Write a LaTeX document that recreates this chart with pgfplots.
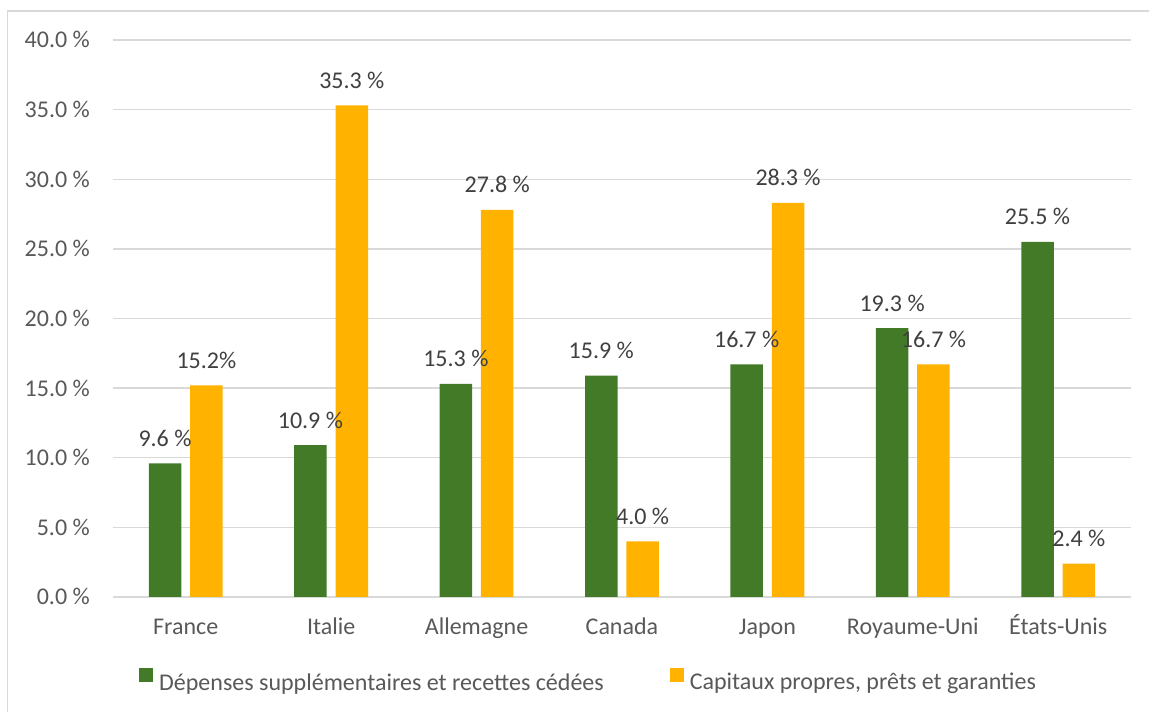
\documentclass[border=0pt]{standalone}
\usepackage{fontspec}
\setmainfont{Carlito}
\usepackage{pgfplots}
\pgfplotsset{compat=1.18}
\definecolor{cgreen}{HTML}{437A27}
\definecolor{corange}{HTML}{FFB300}
\definecolor{cgrid}{HTML}{D9D9D9}
\definecolor{ctick}{HTML}{595959}
\definecolor{clabel}{HTML}{404040}
\newcommand{\cfont}{\fontsize{24}{28}\selectfont}
\begin{document}
\begin{tikzpicture}
\useasboundingbox (0,0) rectangle (1149pt,712pt);
\fill[white] (0,0) rectangle (1149pt,712pt);
\draw[cgrid, line width=1.5pt] (7.5pt,-5pt) -- (7.5pt,701pt) -- (1160pt,701pt);
\begin{axis}[
  at={(113pt,115pt)}, anchor=south west,
  scale only axis, width=1018pt, height=557pt,
  ybar=8.9pt, bar width=32.5pt,
  xmin=-0.5, xmax=6.5, ymin=0, ymax=40,
  xtick={0,...,6},
  xticklabels={France,Italie,Allemagne,Canada,Japon,Royaume-Uni,États-Unis},
  ytick={0,5,...,40},
  yticklabel={\pgfmathprintnumber[fixed,fixed zerofill,precision=1]{\tick}~\%},
  /pgf/number format/assume math mode=true,
  major tick length=0pt,
  axis line style={draw=none},
  ymajorgrids, major grid style={cgrid, line width=1.3pt},
  tick label style={font=\cfont, text=ctick, inner sep=0pt},
  xticklabel style={anchor=base, yshift=-38pt},
  yticklabel style={anchor=base east, xshift=-23pt, yshift=-8pt},
  point meta=explicit symbolic,
  nodes near coords,
  every node near coord/.append style={anchor=base, yshift=17pt, font=\cfont, text=clabel, inner sep=0pt},
  legend columns=2,
  legend style={at={(0.0255,-0.149)}, anchor=west, draw=none, fill=none, inner sep=0pt,
    font=\cfont, text=ctick,
    nodes={inner sep=0pt},
    /tikz/every odd column/.append style={column sep=6pt},
    /tikz/every even column/.append style={column sep=66pt}},
  legend image code/.code={\fill[#1,draw=none] (0pt,0pt) rectangle (14pt,14pt);},
  clip=false,
]
\addplot[fill=cgreen, draw=none] coordinates {
  (0,9.6) [9.6 \%]
  (1,10.9) [10.9 \%]
  (2,15.3) [15.3 \%]
  (3,15.9) [15.9 \%]
  (4,16.7) [16.7 \%]
  (5,19.3) [19.3 \%]
  (6,25.5) [25.5 \%]
};
\addplot[fill=corange, draw=none] coordinates {
  (0,15.2) [15.2\%]
  (1,35.3) [35.3 \%]
  (2,27.8) [27.8 \%]
  (3,4.0) [4.0 \%]
  (4,28.3) [28.3 \%]
  (5,16.7) [16.7 \%]
  (6,2.4) [2.4 \%]
};
\legend{Dépenses supplémentaires et recettes cédées, {Capitaux propres, prêts et garanties}}
\end{axis}
\end{tikzpicture}
\end{document}
